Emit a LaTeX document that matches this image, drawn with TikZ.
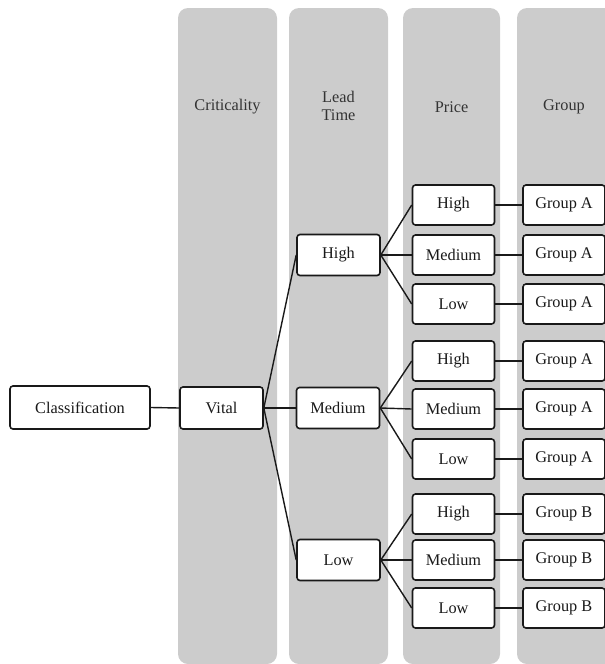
\documentclass[tikz,border=0pt]{standalone}
\usepackage{fontspec}
\setmainfont{Liberation Serif}
\begin{document}
\begin{tikzpicture}[x=1pt,y=-1pt,
  colbg/.style={fill=gray!40!white, draw=none, rounded corners=10pt},
  hdr/.style={font=\fontsize{16.3}{18}\selectfont, text=black!80, align=center},
  box/.style={draw=black!90, fill=white, line width=1.6pt, rounded corners=3pt,
    minimum width=83pt, minimum height=41pt, inner sep=0pt,
    font=\fontsize{16.3}{18}\selectfont, text=black!90},
  pbox/.style={box, minimum width=82pt, minimum height=40pt},
  conn/.style={line width=1.4pt, draw=black!90}]
\useasboundingbox (0,0) rectangle (605,664);
% columns
\fill[colbg] (178,8) rectangle (277,664);
\fill[colbg] (289,8) rectangle (388,664);
\fill[colbg] (403,8) rectangle (500,664);
\fill[colbg] (517,8) rectangle (616,664);
% headers
\node[hdr] (hcrit) at (227.5,107) {Criticality};
\node[hdr] (hlead) at (338.5,106) {Lead\\Time};
\node[hdr] (hprice) at (451.5,107) {Price};
\node[hdr] (hgroup) at (564,107) {Group};
% nodes
\node[box, minimum width=140pt, minimum height=43pt] (cls) at (80,407.5) {Classification};
\node[box, minimum height=42pt] (vital) at (221.5,408) {Vital};
\node[box] (lh) at (338.5,255) {High};
\node[box] (lm) at (338,408) {Medium};
\node[box] (ll) at (338.5,560) {Low};
% price
\node[pbox] (p1) at (453.5,205) {High};
\node[pbox] (p2) at (453.5,255) {Medium};
\node[pbox] (p3) at (453.5,304) {Low};
\node[pbox] (p4) at (453.5,361) {High};
\node[pbox] (p5) at (453.5,409) {Medium};
\node[pbox] (p6) at (453.5,459) {Low};
\node[pbox] (p7) at (453.5,514) {High};
\node[pbox] (p8) at (453.5,560) {Medium};
\node[pbox] (p9) at (453.5,608) {Low};
% group
\node[pbox] (g1) at (564,205) {Group A};
\node[pbox] (g2) at (564,255) {Group A};
\node[pbox] (g3) at (564,304) {Group A};
\node[pbox] (g4) at (564,361) {Group A};
\node[pbox] (g5) at (564,409) {Group A};
\node[pbox] (g6) at (564,459) {Group A};
\node[pbox] (g7) at (564,514) {Group B};
\node[pbox] (g8) at (564,560) {Group B};
\node[pbox] (g9) at (564,608) {Group B};
% connectors
\draw[conn] (cls.east) -- (vital.west);
\draw[conn] (vital.east) -- (lh.west);
\draw[conn] (vital.east) -- (lm.west);
\draw[conn] (vital.east) -- (ll.west);
\foreach \l/\a/\b/\c in {lh/p1/p2/p3, lm/p4/p5/p6, ll/p7/p8/p9}{
  \draw[conn] (\l.east) -- (\a.west);
  \draw[conn] (\l.east) -- (\b.west);
  \draw[conn] (\l.east) -- (\c.west);
}
\foreach \i in {1,...,9}{
  \draw[conn] (p\i.east) -- (g\i.west);
}
\end{tikzpicture}
\end{document}
